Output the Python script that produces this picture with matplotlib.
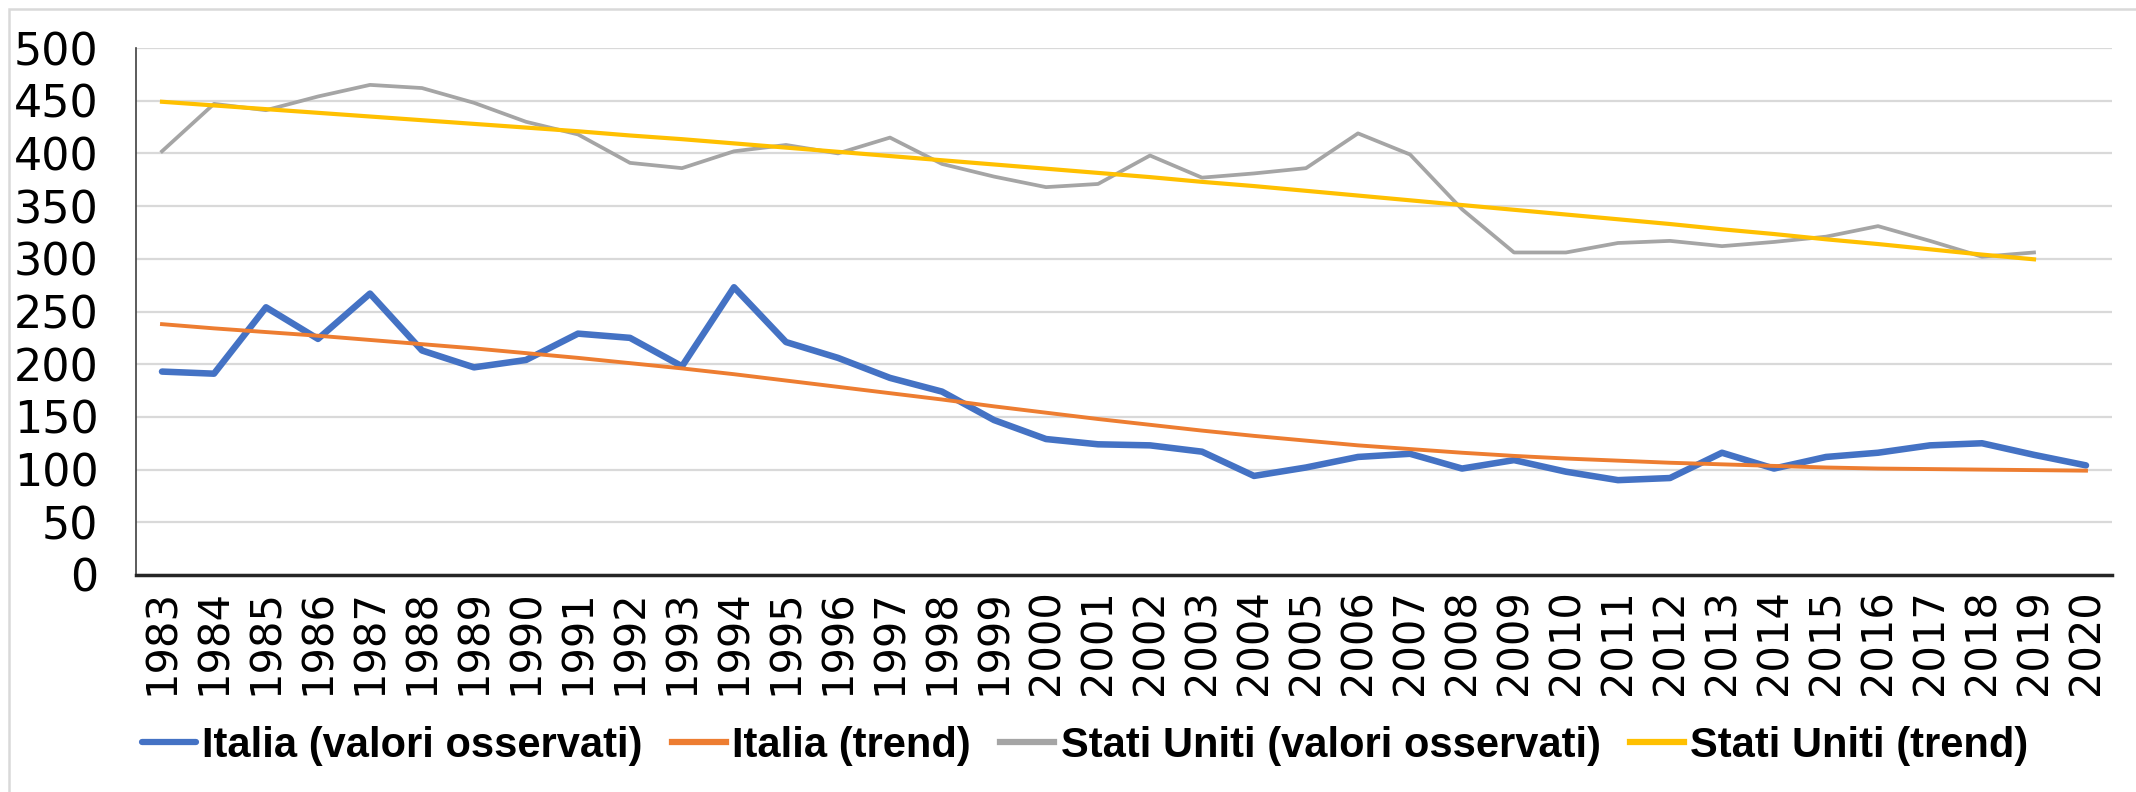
import numpy as np
import matplotlib
matplotlib.use("Agg")
import matplotlib.pyplot as plt
from matplotlib.patches import Rectangle

plt.rcParams['font.family'] = ['Liberation Sans', 'DejaVu Sans']

# %%
years = [str(y) for y in range(1983, 2021)]

italia_obs = [193, 191, 254, 224, 267, 213, 197, 204, 229, 225,
              198, 273, 221, 206, 187, 174, 147, 129, 124, 123,
              117, 94, 102, 112, 115, 101, 109, 98, 90, 92,
              116, 101, 112, 116, 123, 125, 114, 104]

italia_trend = [238, 234, 230.5, 227, 223, 219, 215, 210.5, 206, 201,
                196, 190.5, 184.5, 178.5, 172.5, 166.5, 160, 154, 148, 142.5,
                137, 132, 127.5, 123, 119.5, 116, 113, 110.5, 108.5, 106.5,
                105, 103.5, 102, 101, 100.5, 100, 99.5, 99]

usa_obs = [402, 447, 441, 454, 465, 462, 448, 430, 418, 391,
           386, 402, 408, 400, 415, 390, 378, 368, 371, 398,
           377, 381, 386, 419, 399, 347, 306, 306, 315, 317,
           312, 316, 321, 331, 317, 302, 306]

usa_trend = [449, 445.5, 442, 438.5, 435, 431.5, 428, 424.5, 421, 417,
             413.5, 409.5, 405.5, 401.5, 397.5, 393.5, 389.5, 385.5, 381.5, 377.5,
             373, 369, 364.5, 360, 355.5, 351, 346.5, 342, 337.5, 333,
             328, 323.5, 318.5, 314, 309, 304, 299.5]

labels = ['Italia (valori osservati)', 'Italia (trend)',
          'Stati Uniti (valori osservati)', 'Stati Uniti (trend)']

# %%
fig = plt.figure(figsize=(21.36, 7.92), dpi=100)
ax = fig.add_axes([136 / 2136, 1 - 575 / 792, (2112 - 136) / 2136, (575 - 48) / 792])

x_it = np.arange(len(italia_obs))
x_us = np.arange(len(usa_obs))

ax.plot(x_it, italia_obs, color='#4472C4', lw=4.7, label=labels[0], zorder=4,
        solid_joinstyle='round', solid_capstyle='round')
ax.plot(x_it, italia_trend, color='#ED7D31', lw=2.8, label=labels[1], zorder=5)
ax.plot(x_us, usa_obs, color='#A5A5A5', lw=2.7, label=labels[2], zorder=3)
ax.plot(x_us, usa_trend, color='#FFC000', lw=3.0, label=labels[3], zorder=5)

ax.set_xlim(-0.5, len(years) - 0.5)
ax.set_ylim(0, 500)
ax.set_yticks(range(0, 501, 50))
ax.set_xticks(x_it)
ax.set_xticklabels(years, rotation=90)
ax.tick_params(axis='y', length=0, labelsize=32, pad=27, colors='#000000')
ax.tick_params(axis='x', length=0, labelsize=30, pad=10)
for lbl in ax.get_xticklabels() + ax.get_yticklabels():
    lbl.set_family('DejaVu Sans')

ax.yaxis.grid(True, color='#D9D9D9', lw=1.6)
ax.set_axisbelow(True)
for s in ['top', 'right']:
    ax.spines[s].set_visible(False)
ax.spines['left'].set_color('#404040')
ax.spines['left'].set_linewidth(1.2)
ax.spines['bottom'].set_color('#262626')
ax.spines['bottom'].set_linewidth(2.5)

leg = fig.legend(loc='center', bbox_to_anchor=(0.508, 0.058), ncol=4, frameon=False,
                 prop={'size': 30, 'weight': 'bold'}, handlelength=1.3,
                 handletextpad=0.15, columnspacing=0.7)
for h in leg.get_lines():
    h.set_linewidth(4.5)

fig.patches.append(Rectangle((9 / 2136, -0.05), 1.0, 1 - 9 / 792 + 0.05,
                             transform=fig.transFigure, fill=False,
                             ec='#D9D9D9', lw=1.8))

plt.savefig('out.png', dpi=100)
